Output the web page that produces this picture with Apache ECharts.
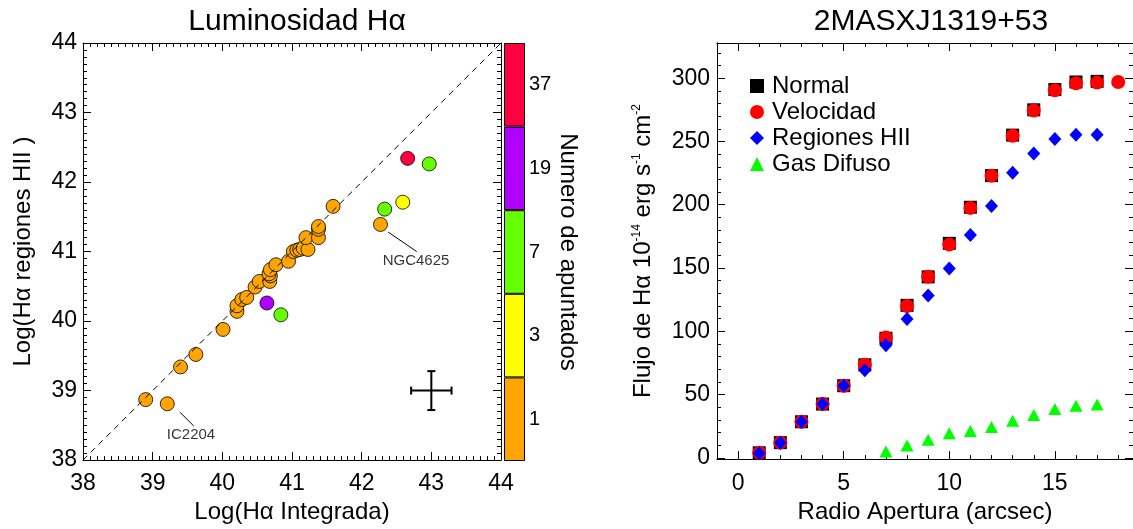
<!DOCTYPE html>
<html lang="es">
<head>
<meta charset="UTF-8">
<title>Luminosidad Halpha</title>
<script src="https://cdn.jsdelivr.net/npm/echarts@6/dist/echarts.min.js"></script>
<style>
  body { margin: 0; background: #fff; }
  #main { width: 1133px; height: 529px; }
</style>
</head>
<body>
<div id="main"></div>
<script>
// ---- panel izquierdo: [log L integrada, log L regiones HII, numero de apuntados]
var puntos = [
  [38.90, 38.87, 1], [39.21, 38.81, 1], [39.40, 39.34, 1], [39.62, 39.52, 1],
  [40.01, 39.88, 1], [40.21, 40.14, 1], [40.21, 40.22, 1], [40.28, 40.31, 1],
  [40.35, 40.34, 1], [40.47, 40.49, 1], [40.53, 40.57, 1], [40.68, 40.57, 1],
  [40.69, 40.65, 1], [40.67, 40.68, 1], [40.69, 40.74, 1], [40.77, 40.81, 1],
  [40.95, 40.86, 1], [41.02, 41.00, 1], [41.07, 41.02, 1], [41.11, 41.03, 1],
  [41.16, 41.05, 1], [41.23, 41.03, 1], [41.20, 41.20, 1], [41.38, 41.20, 1],
  [41.38, 41.32, 1], [41.38, 41.36, 1], [41.59, 41.65, 1],
  [40.64, 40.26, 19], [40.84, 40.09, 7],
  [42.27, 41.39, 1], [42.33, 41.61, 7], [42.59, 41.71, 3],
  [42.66, 42.34, 37], [42.97, 42.26, 7]
];
var apuntados = ['1', '3', '7', '19', '37'];
var coloresApuntados = ['#FFA500', '#FFFF00', '#66FF00', '#B000FF', '#FF0040'];
var barraValores = [1, 1, 1, 1, 1];
var lineaIgual = [[38, 38], [44, 44]];
var errorTipico = [[43, 39, 0.29, 0.28]];   // x, y, dx, dy
var etiquetas = [
  { nombre: 'NGC4625', texto: [42.78, 40.87], linea: [[42.38, 41.28], [42.79, 41.00]] },
  { nombre: 'IC2204', texto: [39.55, 38.36], linea: [[39.39, 38.69], [39.59, 38.49]] }
];

// ---- panel derecho: flujo vs radio de apertura
var radio = [1, 2, 3, 4, 5, 6, 7, 8, 9, 10, 11, 12, 13, 14, 15, 16, 17, 18];
var normal = [4, 12, 28.5, 42.5, 57, 73.5, 94.5, 120.5, 143, 169.5, 198, 223, 255, 275, 291, 297, 297.5];
var velocidad = [4, 12, 28.5, 42.5, 57, 73.5, 95, 120, 143, 168.5, 197.5, 223, 254.5, 274.5, 290.5, 296, 296.5, 297];
var regionesHII = [3.7, 12, 28.6, 42.5, 56.9, 69.2, 88.9, 109.8, 128.2, 149.7, 176.1, 199, 225.2, 240.4, 251.9, 255.3, 255.3];
var radioGas = [7, 8, 9, 10, 11, 12, 13, 14, 15, 16, 17];
var gasDifuso = [5, 9.7, 14.2, 19.4, 21.2, 24.4, 29.4, 33.8, 38.5, 41.2, 42.2];
var xMayores = [0, 5, 10, 15];
var xMenores = [0, 1, 2, 3, 4, 5, 6, 7, 8, 9, 10, 11, 12, 13, 14, 15, 16, 17, 18];
var yMayores = [0, 50, 100, 150, 200, 250, 300];
var yMenores = [0, 10, 20, 30, 40, 50, 60, 70, 80, 90, 100, 110, 120, 130, 140, 150, 160, 170,
  180, 190, 200, 210, 220, 230, 240, 250, 260, 270, 280, 290, 300, 310, 320];

var fuente = "'Liberation Sans', Arial, Helvetica, sans-serif";

function par(xs, ys) {
  return ys.map(function (v, i) { return [xs[i], v]; });
}

function colorDe(n) {
  return coloresApuntados[apuntados.indexOf(String(n))];
}

function ejeMarco(extra) {
  var base = {
    type: 'value',
    axisLine: { show: true, onZero: false, lineStyle: { color: '#000', width: 1 } },
    axisTick: { show: false },
    axisLabel: { show: false },
    splitLine: { show: false }
  };
  return Object.assign(base, extra);
}

function ejeCustom(extra, valores, largo, etiquetasVal) {
  var e = ejeMarco(extra);
  e.axisTick = { show: true, inside: true, length: largo, customValues: valores, lineStyle: { color: '#000' } };
  if (etiquetasVal) {
    e.axisLabel = { show: true, customValues: etiquetasVal, color: '#000', fontSize: 23, fontFamily: fuente };
  }
  return e;
}

var chart = echarts.init(document.getElementById('main'));

var ticksIzq = { show: true, inside: true, length: 8, lineStyle: { color: '#000' } };
var menoresIzq = { show: true, splitNumber: 10, length: 4, lineStyle: { color: '#000' } };
var lblIzq = { show: true, color: '#000', fontSize: 23, fontFamily: fuente };

var option = {
  animation: false,
  backgroundColor: '#fff',
  textStyle: { fontFamily: fuente },
  title: [
    { text: 'Luminosidad Hα', left: 292, textAlign: 'center', top: 2,
      textStyle: { fontSize: 30, fontWeight: 'normal', color: '#000', fontFamily: fuente } },
    { text: '2MASXJ1319+53', left: 926, textAlign: 'center', top: 2,
      textStyle: { fontSize: 30, fontWeight: 'normal', color: '#000', fontFamily: fuente } }
  ],
  legend: {
    orient: 'vertical',
    left: 750,
    top: 74,
    padding: 0,
    itemWidth: 14,
    itemHeight: 14,
    itemGap: 2,
    itemStyle: { opacity: 1 },
    textStyle: { fontSize: 24, color: '#000', fontFamily: fuente, padding: [0, 0, 0, 3] },
    data: [
      { name: 'Normal', icon: 'rect' },
      { name: 'Velocidad', icon: 'circle' },
      { name: 'Regiones HII', icon: 'diamond' },
      { name: 'Gas Difuso', icon: 'triangle' }
    ]
  },
  grid: [
    { left: 83, top: 43, width: 418, height: 418 },
    { left: 717, top: 43, width: 418, height: 418 },
    { left: 504, top: 43, width: 21, height: 418 }
  ],
  xAxis: [
    ejeMarco({ gridIndex: 0, position: 'bottom', min: 38, max: 44, interval: 1,
      axisTick: ticksIzq, minorTick: menoresIzq,
      axisLabel: Object.assign({ margin: 12 }, lblIzq),
      name: 'Log(Hα Integrada)', nameLocation: 'middle', nameGap: 38,
      nameTextStyle: { fontSize: 24, color: '#000', fontFamily: fuente } }),
    ejeMarco({ gridIndex: 0, position: 'top', min: 38, max: 44, interval: 1,
      axisTick: ticksIzq, minorTick: menoresIzq }),
    (function () {
      var e = ejeCustom({ gridIndex: 1, position: 'bottom', min: -1, max: 18.7,
        name: 'Radio Apertura (arcsec)', nameLocation: 'middle', nameGap: 38,
        nameTextStyle: { fontSize: 24, color: '#000', fontFamily: fuente } }, xMayores, 8, xMayores);
      e.axisLabel.margin = 13;
      return e;
    })(),
    ejeCustom({ gridIndex: 1, position: 'bottom', min: -1, max: 18.7 }, xMenores, 4),
    ejeCustom({ gridIndex: 1, position: 'top', min: -1, max: 18.7 }, xMayores, 8),
    ejeCustom({ gridIndex: 1, position: 'top', min: -1, max: 18.7 }, xMenores, 4),
    { gridIndex: 2, type: 'value', min: 0, max: 1, show: false }
  ],
  yAxis: [
    ejeMarco({ gridIndex: 0, position: 'left', min: 38, max: 44, interval: 1,
      axisTick: ticksIzq, minorTick: menoresIzq,
      axisLabel: Object.assign({ margin: 6 }, lblIzq),
      name: 'Log(Hα regiones HII )', nameLocation: 'middle', nameGap: 48,
      nameTextStyle: { fontSize: 24, color: '#000', fontFamily: fuente } }),
    ejeMarco({ gridIndex: 0, position: 'right', min: 38, max: 44, interval: 1,
      axisTick: ticksIzq, minorTick: menoresIzq }),
    (function () {
      var e = ejeCustom({ gridIndex: 1, position: 'left', min: -1, max: 327.8,
        name: '{a|Flujo de Hα 10}{s|-14}{a| erg s}{s|-1}{a| cm}{s|-2}',
        nameLocation: 'middle', nameGap: 62,
        nameTextStyle: {
          color: '#000', fontFamily: fuente, fontSize: 24,
          rich: {
            a: { fontSize: 24, color: '#000', fontFamily: fuente, verticalAlign: 'bottom' },
            s: { fontSize: 12, color: '#000', fontFamily: fuente, verticalAlign: 'top' }
          }
        } }, yMayores, 8, yMayores);
      e.axisLabel.margin = 7;
      return e;
    })(),
    ejeCustom({ gridIndex: 1, position: 'left', min: -1, max: 327.8 }, yMenores, 4),
    ejeCustom({ gridIndex: 1, position: 'right', min: -1, max: 327.8 }, yMayores, 8),
    ejeCustom({ gridIndex: 1, position: 'right', min: -1, max: 327.8 }, yMenores, 4),
    {
      gridIndex: 2, type: 'category', position: 'right', data: apuntados,
      axisLine: { show: false }, axisTick: { show: false },
      axisLabel: { color: '#000', fontSize: 20, fontFamily: fuente, margin: 4 },
      name: 'Numero de apuntados', nameLocation: 'middle', nameRotate: -90, nameGap: 30,
      nameTextStyle: { fontSize: 24, color: '#000', fontFamily: fuente }
    }
  ],
  series: [
    {
      type: 'bar', xAxisIndex: 6, yAxisIndex: 6, barWidth: '100%', barCategoryGap: 0,
      data: barraValores.map(function (v, i) {
        return { value: v, itemStyle: { color: coloresApuntados[i] } };
      }),
      itemStyle: { borderColor: '#000', borderWidth: 1 },
      silent: true
    },
    {
      type: 'line', xAxisIndex: 0, yAxisIndex: 0, data: lineaIgual, symbol: 'none',
      lineStyle: { color: '#000', width: 1, type: [6, 5] }, silent: true
    },
    {
      type: 'scatter', xAxisIndex: 0, yAxisIndex: 0, symbolSize: 14,
      data: puntos.map(function (p) {
        return { value: p, itemStyle: { color: colorDe(p[2]) } };
      }),
      itemStyle: { borderColor: '#000', borderWidth: 0.8, opacity: 1 }
    },
    {
      type: 'custom', xAxisIndex: 0, yAxisIndex: 0, data: errorTipico,
      renderItem: function (params, api) {
        var x = api.value(0), y = api.value(1), dx = api.value(2), dy = api.value(3);
        var l = api.coord([x - dx, y]), r = api.coord([x + dx, y]);
        var t = api.coord([x, y + dy]), b = api.coord([x, y - dy]);
        var c = 4;
        var st = { stroke: '#000', lineWidth: 2 };
        return {
          type: 'group',
          children: [
            { type: 'line', shape: { x1: l[0], y1: l[1], x2: r[0], y2: r[1] }, style: st },
            { type: 'line', shape: { x1: t[0], y1: t[1], x2: b[0], y2: b[1] }, style: st },
            { type: 'line', shape: { x1: l[0], y1: l[1] - c, x2: l[0], y2: l[1] + c }, style: st },
            { type: 'line', shape: { x1: r[0], y1: r[1] - c, x2: r[0], y2: r[1] + c }, style: st },
            { type: 'line', shape: { x1: t[0] - c, y1: t[1], x2: t[0] + c, y2: t[1] }, style: st },
            { type: 'line', shape: { x1: b[0] - c, y1: b[1], x2: b[0] + c, y2: b[1] }, style: st }
          ]
        };
      }
    }
  ]
};

etiquetas.forEach(function (e) {
  option.series.push({
    type: 'line', xAxisIndex: 0, yAxisIndex: 0, data: e.linea, symbol: 'none',
    lineStyle: { color: '#000', width: 1 }, silent: true
  });
  option.series.push({
    type: 'scatter', xAxisIndex: 0, yAxisIndex: 0, symbolSize: 0, silent: true,
    data: [{ value: e.texto, name: e.nombre }],
    label: { show: true, position: 'inside', formatter: '{b}', color: '#000', fontSize: 15, fontFamily: fuente }
  });
});

option.series.push(
  { name: 'Normal', type: 'scatter', xAxisIndex: 2, yAxisIndex: 2, symbol: 'rect', symbolSize: 13,
    itemStyle: { color: '#000', opacity: 1 }, data: par(radio, normal) },
  { name: 'Velocidad', type: 'scatter', xAxisIndex: 2, yAxisIndex: 2, symbol: 'circle', symbolSize: 14,
    itemStyle: { color: '#FF0000', opacity: 1 }, data: par(radio, velocidad) },
  { name: 'Regiones HII', type: 'scatter', xAxisIndex: 2, yAxisIndex: 2, symbol: 'diamond', symbolSize: [13, 14],
    itemStyle: { color: '#0000FF', opacity: 1 }, data: par(radio, regionesHII) },
  { name: 'Gas Difuso', type: 'scatter', xAxisIndex: 2, yAxisIndex: 2, symbol: 'triangle', symbolSize: [13, 12],
    itemStyle: { color: '#00FF00', opacity: 1 }, data: par(radioGas, gasDifuso) }
);

chart.setOption(option);
</script>
</body>
</html>
